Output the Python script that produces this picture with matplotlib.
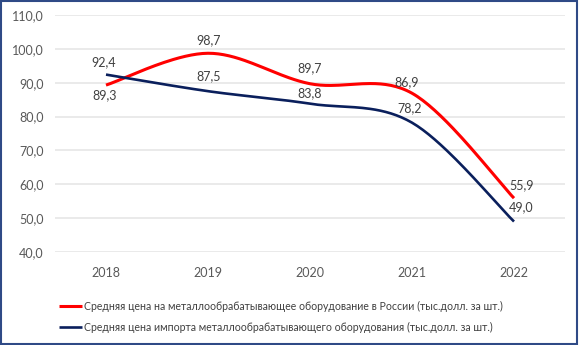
import numpy as np
import matplotlib.pyplot as plt
from matplotlib.patches import Rectangle

plt.rcParams['font.family'] = ['Lato', 'DejaVu Sans']

years = ['2018', '2019', '2020', '2021', '2022']
russia = [89.3, 98.7, 89.7, 86.9, 55.9]
imports = [92.4, 87.5, 83.8, 78.2, 49.0]
russia_label = 'Средняя цена на металлообрабатывающее оборудование в России (тыс.долл. за шт.)'
import_label = 'Средняя цена импорта металлообрабатывающего оборудования (тыс.долл. за шт.)'


def smooth(x, y, n=40):
    # cubic bezier through points, control points like office charts
    x = np.asarray(x, float)
    y = np.asarray(y, float)
    px = np.concatenate([[x[0]], x, [x[-1]]])
    py = np.concatenate([[y[0]], y, [y[-1]]])
    xs, ys = [], []
    t = np.linspace(0, 1, n)
    for i in range(len(x) - 1):
        p0 = np.array([px[i + 1], py[i + 1]])
        p3 = np.array([px[i + 2], py[i + 2]])
        c1 = p0 + (np.array([px[i + 2], py[i + 2]]) - np.array([px[i], py[i]])) / 6
        c2 = p3 - (np.array([px[i + 3], py[i + 3]]) - np.array([px[i + 1], py[i + 1]])) / 6
        b = ((1 - t) ** 3)[:, None] * p0 + (3 * (1 - t) ** 2 * t)[:, None] * c1 \
            + (3 * (1 - t) * t ** 2)[:, None] * c2 + (t ** 3)[:, None] * p3
        xs.append(b[:, 0])
        ys.append(b[:, 1])
    return np.concatenate(xs), np.concatenate(ys)


fig = plt.figure(figsize=(5.79, 3.45), dpi=100)
ax = fig.add_axes([55 / 579, 1 - 252 / 345, 510 / 579, 237 / 345])

x = np.arange(len(years))
sx, sy = smooth(x, russia)
ax.plot(sx, sy, color='#ff0000', lw=2.2, solid_capstyle='butt', label=russia_label, zorder=3)
sx, sy = smooth(x, imports)
ax.plot(sx, sy, color='#0a1f5c', lw=1.9, solid_capstyle='butt', label=import_label, zorder=3)

ax.set_xlim(-0.5, len(years) - 0.5)
ax.set_ylim(40, 110)
ax.set_yticks(np.arange(40, 111, 10))
ax.set_yticklabels([f'{v:.1f}'.replace('.', ',') for v in np.arange(40, 111, 10)])
ax.set_xticks(x)
ax.set_xticklabels(years)
ax.tick_params(length=0, labelsize=9, colors='#595959', pad=11)
ax.tick_params(axis='y', pad=8)
ax.grid(axis='y', color='#e6e6e6', lw=1.2)
ax.set_axisbelow(True)
for s in ax.spines.values():
    s.set_visible(False)

# value labels, offsets in points
red_off = [(-1, -7), (0.5, 9.5), (0, 11.5), (-3.6, 8), (5.8, 9.4)]
blue_off = [(-2, 9), (0.5, 10.8), (0, 7.5), (-1.5, 10.6), (5.2, 10.6)]
for i in range(len(years)):
    ax.annotate(f'{russia[i]:.1f}'.replace('.', ','), (x[i], russia[i]),
                xytext=red_off[i], textcoords='offset points', ha='center', va='center',
                fontsize=9, color='#404040')
    ax.annotate(f'{imports[i]:.1f}'.replace('.', ','), (x[i], imports[i]),
                xytext=blue_off[i], textcoords='offset points', ha='center', va='center',
                fontsize=9, color='#404040')

fig.legend(loc='upper left', bbox_to_anchor=(49 / 579, 1 - 291 / 345), frameon=False,
           fontsize=7.6, labelcolor='#404040', handlelength=2.2, handletextpad=0.2,
           labelspacing=1.0)

fig.patches.append(Rectangle((0.002, 0.003), 0.995, 0.993, transform=fig.transFigure,
                             fill=False, edgecolor='#2f4a86', lw=1.5))

fig.savefig('out.png', dpi=100)
